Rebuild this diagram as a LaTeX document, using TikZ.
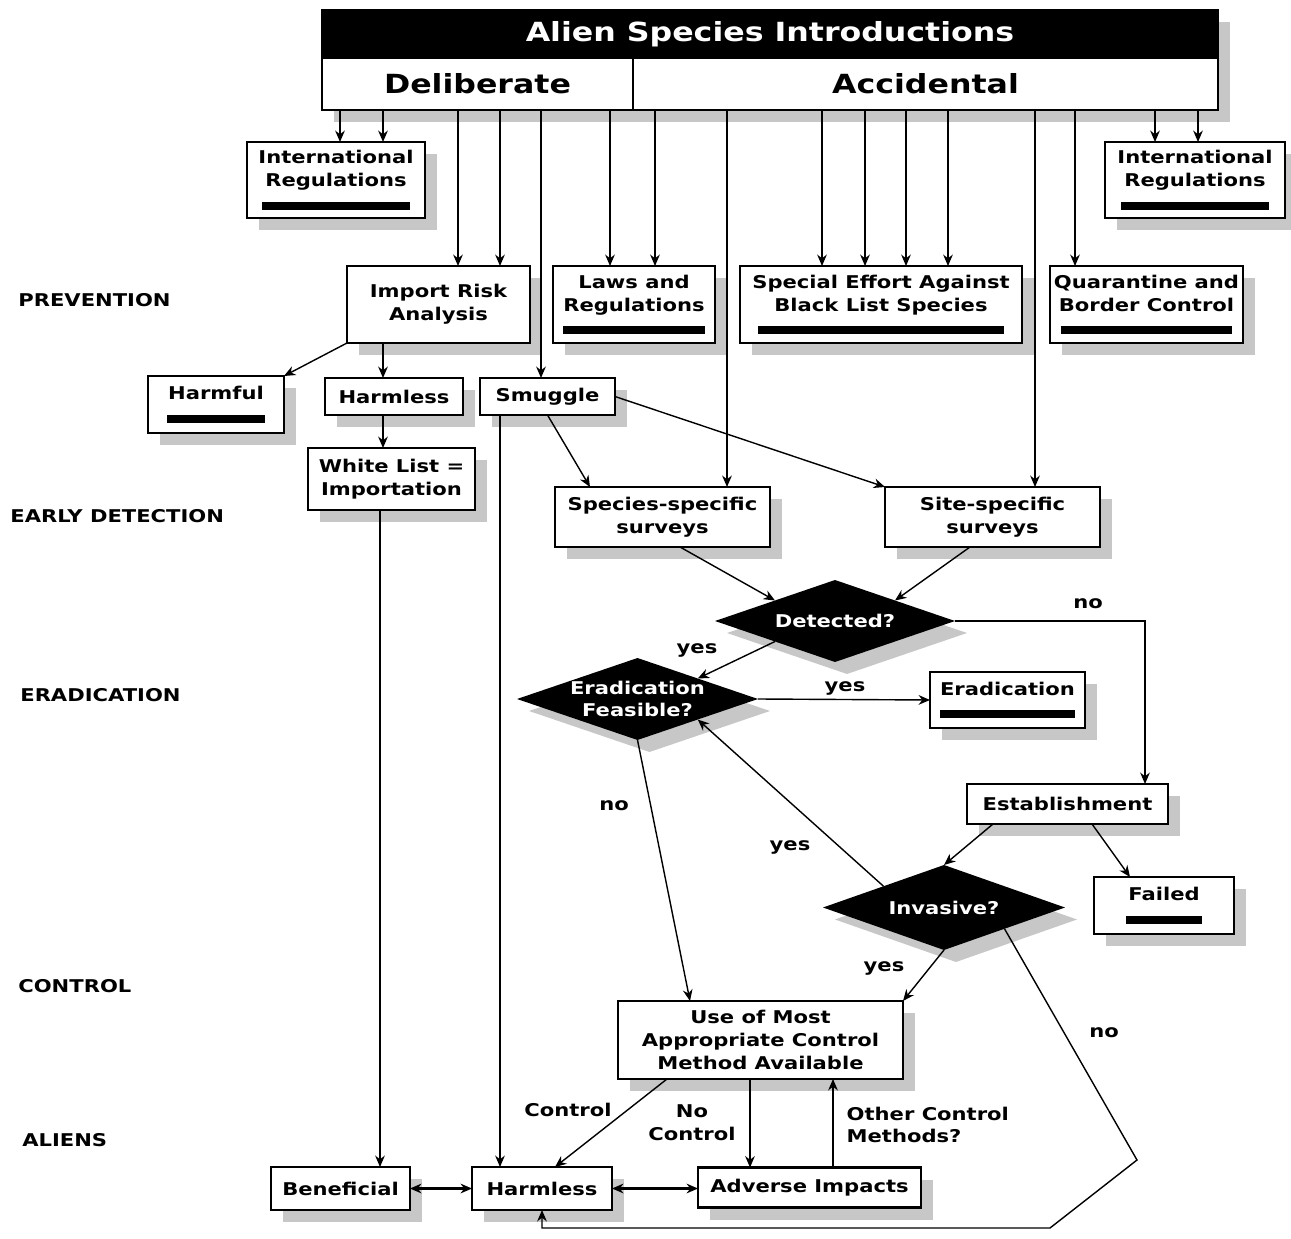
\documentclass[tikz,border=0pt]{standalone}
\usepackage{fontspec}
\setmainfont{DejaVu Sans}[FakeStretch=1.2]
\usetikzlibrary{calc,shapes.geometric,shadows,arrows.meta}

\newcommand{\blackbar}[1]{\rule{#1}{4.5pt}}

\begin{document}
\begin{tikzpicture}[
  x=0.02cm, y=-0.02cm,
  >={Stealth[length=6.5pt,width=5.5pt]},
  flow/.style={
    ->,
    line width=0.8pt
  },
  two way/.style={
    <->,
    line width=1.3pt
  },
  box shadow/.style={
    drop shadow={shadow xshift=0.24cm, shadow yshift=-0.24cm,
      fill=black!22, opacity=1}
  },
  action box/.style={
    rectangle,
    fill=white,
    draw=black,
    line width=1.6pt,
    align=center,
    inner sep=2pt,
    outer sep=0pt,
    font=\bfseries\fontsize{10}{13}\selectfont,
    box shadow
  },
  intro box/.style={
    action box,
    minimum height=1.04cm,
    font=\bfseries\fontsize{15}{18}\selectfont
  },
  decision/.style={
    diamond,
    aspect=2.9,
    fill=black,
    text=white,
    inner xsep=0pt, inner ysep=-3pt,
    outer sep=0pt,
    align=center,
    font=\bfseries\fontsize{10}{13}\selectfont,
    box shadow
  },
  stage/.style={
    anchor=west,
    inner sep=0pt,
    font=\bfseries\fontsize{10}{12}\selectfont
  },
  answer/.style={
    inner sep=0pt,
    align=center,
    font=\bfseries\fontsize{10}{13}\selectfont
  }
  ]
\useasboundingbox (0,0) rectangle (1291,1239);
% Alien Species Introductions
\node [action box, fill=black, text=white, minimum width=17.92cm, minimum height=0.96cm,
  font=\bfseries\fontsize{15}{18}\selectfont] (introductions) at (770,34) {Alien Species Introductions};
\node [intro box, minimum width=6.22cm] (deliberate) at (477.5,84) {Deliberate};
\node [intro box, minimum width=11.7cm] (accidental) at (925.5,84) {Accidental};
% Stages
\node [stage] (prevention) at (18,300) {PREVENTION};
\node [stage] (early detection) at (10,516) {EARLY DETECTION};
\node [stage] (eradication stage) at (20,695) {ERADICATION};
\node [stage] (control stage) at (18,986) {CONTROL};
\node [stage] (aliens) at (22,1140) {ALIENS};
% International Regulations
\node [action box, minimum width=3.56cm, minimum height=1.52cm] (regulations left) at (336,180)
  {International\\Regulations\\\blackbar{2.96cm}};
\node [action box, minimum width=3.6cm, minimum height=1.52cm] (regulations right) at (1195,180)
  {International\\Regulations\\\blackbar{2.96cm}};
% Prevention
\node [action box, minimum width=3.66cm, minimum height=1.54cm] (import risk) at (438.5,304.5) {Import Risk\\Analysis};
\node [action box, minimum width=3.24cm, minimum height=1.54cm] (laws) at (634,304.5)
  {Laws and\\Regulations\\\blackbar{2.84cm}};
\node [action box, minimum width=5.64cm, minimum height=1.54cm] (black list) at (881,304.5)
  {Special Effort Against\\Black List Species\\\blackbar{4.92cm}};
\node [action box, minimum width=3.86cm, minimum height=1.54cm] (quarantine) at (1146.5,304.5)
  {Quarantine and\\Border Control\\\blackbar{3.44cm}};
\node [action box, minimum width=2.72cm, minimum height=1.14cm] (harmful) at (216,404.5) {Harmful\\\blackbar{1.96cm}};
\node [action box, minimum width=2.76cm, minimum height=0.74cm] (harmless top) at (394,396.5) {Harmless};
\node [action box, minimum width=2.7cm, minimum height=0.74cm] (smuggle) at (547.5,396.5) {Smuggle};
\node [action box, minimum width=3.34cm, minimum height=1.24cm] (white list) at (391.5,479) {White List =\\Importation};
% Early Detection
\node [action box, minimum width=4.3cm, minimum height=1.2cm] (species surveys) at (662.5,517) {Species-specific\\surveys};
\node [action box, minimum width=4.3cm, minimum height=1.2cm] (site surveys) at (992.5,517) {Site-specific\\surveys};
\node [decision, minimum width=4.8cm, minimum height=1.64cm] (detected) at (835,621) {Detected?};
% Eradication
\node [decision, minimum width=4.82cm, minimum height=1.64cm] (feasible) at (637.5,699) {Eradication\\Feasible?};
\node [action box, minimum width=3.1cm, minimum height=1.12cm] (eradication) at (1007.5,700) {Eradication\\\blackbar{2.7cm}};
\node [action box, minimum width=4.02cm, minimum height=0.8cm] (establishment) at (1067.5,804) {Establishment};
\node [action box, minimum width=2.8cm, minimum height=1.14cm] (failed) at (1164,905.5) {Failed\\\blackbar{1.52cm}};
\node [decision, minimum width=4.84cm, minimum height=1.7cm] (invasive) at (944,907.5) {Invasive?};
% Control
\node [action box, minimum width=5.7cm, minimum height=1.56cm] (control method) at (760.5,1040)
  {Use of Most\\Appropriate Control\\Method Available};
% Aliens
\node [action box, minimum width=2.78cm, minimum height=0.86cm] (beneficial) at (340.5,1188.5) {Beneficial};
\node [action box, minimum width=2.8cm, minimum height=0.86cm] (harmless) at (542,1188.5) {Harmless};
\node [action box, minimum width=4.46cm, minimum height=0.8cm] (adverse) at (809.5,1187.5) {Adverse Impacts};
% Arrows out of the introductions
\foreach \xpos/\target in {340/regulations left, 383/regulations left, 458/import risk, 500/import risk,
  541/smuggle, 610/laws, 655/laws, 727/species surveys, 822/black list, 865/black list,
  906/black list, 948/black list, 1035/site surveys, 1075/quarantine,
  1155/regulations right, 1198/regulations right}
  \draw [flow] (deliberate.south -| \xpos,0) -- (\target.north -| \xpos,0);
% Prevention arrows
\draw [flow] (import risk.south west) -- (harmful.north east);
\draw [flow] (import risk.south -| 383,0) -- (harmless top.north -| 383,0);
\draw [flow] (harmless top.south -| 383,0) -- (white list.north -| 383,0);
\draw [flow] (white list.south -| 380,0) -- (beneficial.north -| 380,0);
\draw [flow] (smuggle.south -| 500,0) -- (harmless.north -| 500,0);
\draw [flow] (smuggle.south) -- (species surveys.north -| 590,0);
\draw [flow] (smuggle.east) -- (site surveys.north west);
% Detection arrows
\draw [flow] (species surveys.south -| 680,0) -- (detected.north west);
\draw [flow] (site surveys.south -| 970,0) -- (detected.north east);
\draw [flow] (detected.south west) -- (feasible.north east)
  node [answer] at (697,650) {yes};
\draw [flow] (detected.east) -| (establishment.north -| 1145,0)
  node [answer] at (1088,604) {no};
% Eradication arrows
\draw [flow] (feasible.east) -- (eradication.west)
  node [answer] at (845,688) {yes};
\draw [flow] (feasible.south) -- (control method.north -| 690,0)
  node [answer] at (614,806) {no};
\draw [flow] (establishment.south -| 993,0) -- (invasive.north);
\draw [flow] (establishment.south -| 1092,0) -- (failed.north -| 1130,0);
\draw [flow] (invasive.north west) -- (feasible.south east)
  node [answer] at (790,847) {yes};
% Control arrows
\draw [flow] (invasive.south) -- (control method.north east)
  node [answer] at (884,968) {yes};
\coordinate (no turn) at (1137,1160);
\coordinate (no return) at (1050,1228);
\draw [flow] (invasive.south east) -- (no turn) -- (no return) -| (harmless.south)
  node [answer] at (1104,1033) {no};
\draw [flow] (control method.south -| 667,0) -- (harmless.north -| 555,0)
  node [answer] at (568,1110) {Control};
\draw [flow] (control method.south -| 750,0) -- (adverse.north -| 750,0)
  node [answer] at (692,1123) {No\\Control};
\draw [flow] (adverse.north -| 833,0) -- (control method.south -| 833,0)
  node [answer, anchor=west, align=left] at (846,1125) {Other Control\\Methods?};
% Aliens arrows
\draw [two way] (beneficial) -- (harmless);
\draw [two way] (harmless.east) -- (adverse.west |- harmless.east);
\end{tikzpicture}
\end{document}
